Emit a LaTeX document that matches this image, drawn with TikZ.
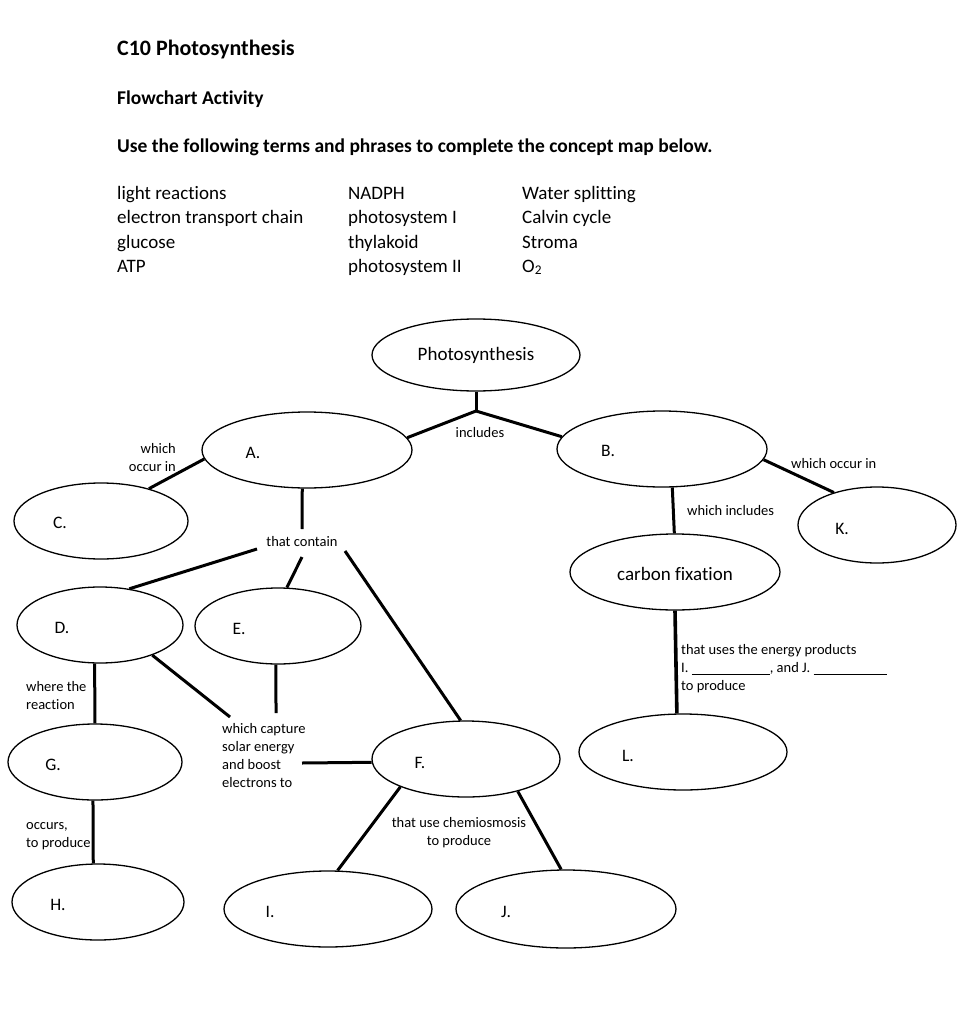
\documentclass[tikz,border=0pt]{standalone}
\usepackage{fontspec}
\setmainfont[Ligatures=NoCommon]{Carlito}
\usetikzlibrary{shapes.geometric}
\begin{document}
\begin{tikzpicture}[x=1pt,y=-1pt,
  ell/.style={ellipse,draw,line width=1.3pt,inner sep=0pt},
  conn/.style={line width=3pt},
  lbl/.style={font=\fontsize{14.5}{18}\selectfont,inner sep=0pt},
  etxt/.style={font=\fontsize{19}{22}\selectfont,inner sep=0pt},
  ltr/.style={font=\fontsize{17.5}{20}\selectfont,inner sep=0pt},
  term/.style={font=\fontsize{19}{24}\selectfont,inner sep=0pt,anchor=base west},
  head/.style={font=\fontsize{19.5}{22}\selectfont\bfseries,inner sep=0pt,anchor=base west},
]
\fill[white] (0,0) rectangle (974,1024);
\useasboundingbox (0,0) rectangle (974,1024);

% headings
\node[head,font=\fontsize{22}{26}\selectfont\bfseries] (title) at (117,56) {C10 Photosynthesis};
\node[head] (sub) at (117,105) {Flowchart Activity};
\node[head] (instr) at (117,153) {Use the following terms and phrases to complete the concept map below.};

% term list
\node[term] (t11) at (117,200) {light reactions};
\node[term] (t12) at (117,224) {electron transport chain};
\node[term] (t13) at (117,248) {glucose};
\node[term] (t14) at (117,272) {ATP};
\node[term] (t21) at (348,200) {NADPH};
\node[term] (t22) at (348,224) {photosystem I};
\node[term] (t23) at (348,248) {thylakoid};
\node[term] (t24) at (348,272) {photosystem II};
\node[term] (t31) at (522,200) {Water splitting};
\node[term] (t32) at (522,224) {Calvin cycle};
\node[term] (t33) at (522,248) {Stroma};
\node[term] (t34) at (522,272) {O\textsubscript{2}};

% ellipses
\node[ell,minimum width=208,minimum height=72] (P) at (476,355) {};
\node[ell,minimum width=210,minimum height=76] (A) at (307,450) {};
\node[ell,minimum width=210,minimum height=76] (B) at (662,449) {};
\node[ell,minimum width=174,minimum height=76] (C) at (101,521) {};
\node[ell,minimum width=158,minimum height=76] (K) at (877,525) {};
\node[ell,minimum width=210,minimum height=76] (CF) at (675,572) {};
\node[ell,minimum width=166,minimum height=76] (D) at (100,625) {};
\node[ell,minimum width=166,minimum height=76] (E) at (278,626) {};
\node[ell,minimum width=174,minimum height=76] (G) at (95,762) {};
\node[ell,minimum width=188,minimum height=76] (F) at (466,759) {};
\node[ell,minimum width=208,minimum height=76] (L) at (683,752) {};
\node[ell,minimum width=172,minimum height=76] (H) at (98,902) {};
\node[ell,minimum width=208,minimum height=76] (I) at (328,909) {};
\node[ell,minimum width=220,minimum height=78] (J) at (566,909) {};

% ellipse texts
\node[etxt] (Pt) at (476,355) {Photosynthesis};
\node[etxt] (CFt) at (675,574) {carbon fixation};
\node[ltr] (At) at (253,453) {A.};
\node[ltr] (Bt) at (608,451) {B.};
\node[ltr] (Ct) at (60,523) {C.};
\node[ltr] (Kt) at (842,529) {K.};
\node[ltr] (Dt) at (62,628) {D.};
\node[ltr] (Et) at (239,629) {E.};
\node[ltr] (Gt) at (53,765) {G.};
\node[ltr] (Ft) at (420,763) {F.};
\node[ltr] (Lt) at (628,756) {L.};
\node[ltr] (Ht) at (58,905) {H.};
\node[ltr] (It) at (270,912) {I.};
\node[ltr] (Jt) at (506,912) {J.};

% link labels
\node[lbl] (inc) at (480,433) {includes};
\node[lbl,align=right,anchor=east] (occ) at (176,458) {which\\occur in};
\node[lbl] (tc) at (302,542) {that contain};
\node[lbl,align=left,anchor=west] (wr) at (26,696) {where the\\reaction};
\node[lbl,align=left,anchor=west] (wc) at (222,756) {which capture\\solar energy\\and boost\\electrons to};
\node[lbl,align=left,anchor=west] (op) at (26,836) {occurs,\\to produce};
\node[lbl,align=center] (uc) at (459,833) {that use chemiosmosis\\to produce};
\node[lbl,anchor=west] (woc) at (791,464) {which occur in};
\node[lbl,anchor=west] (wi) at (687,511) {which includes};
\node[lbl,align=left,anchor=west] (ue) at (681,669) {that uses the energy products\\I.\ \rule[-1.5pt]{78pt}{0.6pt}, and J.\ \rule[-1.5pt]{73pt}{0.6pt}\\to produce};

% free-end coordinates
\coordinate (j) at (476,411);
\coordinate (tcA) at (302,529);
\coordinate (tcD) at (257,549);
\coordinate (tcE) at (302,557);
\coordinate (tcF) at (345,551);
\coordinate (wcD) at (230,717);
\coordinate (wcE) at (276,713);
\coordinate (wcF) at (302,763);

% connectors
\draw[conn] (P.south) -- (j);
\draw[conn] (j) -- (A.7);
\draw[conn] (j) -- (B.173.5);
\draw[conn] (A.185.4) -- (C.34);
\draw[conn] (A.263) -- (tcA);
\draw[conn] (tcD) -- (D.51.7);
\draw[conn] (tcE) -- (E.77);
\draw[conn] (tcF) -- (F.98.1);
\draw[conn] (D.262.3) -- (G.90);
\draw[conn] (D.330.5) -- (wcD);
\draw[conn] (E.267) -- (wcE);
\draw[conn] (wcF) -- (F.182.4);
\draw[conn] (G.267) -- (H.97.3);
\draw[conn] (F.203.6) -- (I.76.7);
\draw[conn] (F.328) -- (J.97);
\draw[conn] (B.354) -- (K.143.5);
\draw[conn] (B.285.6) -- (CF.91.4);
\draw[conn,line width=3.6pt] (CF.270) -- (L.99.2);
\end{tikzpicture}
\end{document}
